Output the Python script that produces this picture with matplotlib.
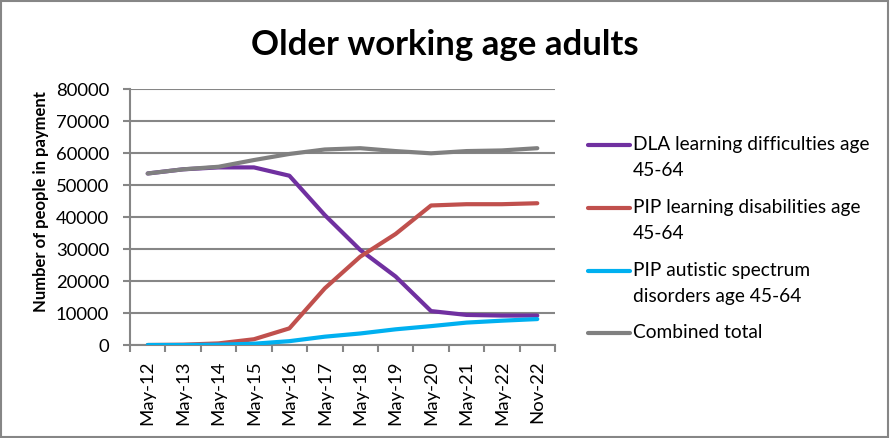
import matplotlib
matplotlib.use("Agg")
import matplotlib.pyplot as plt
from matplotlib.lines import Line2D
from matplotlib.patches import Rectangle

plt.rcParams['font.family'] = ['Lato', 'DejaVu Sans']

months = ['May-12', 'May-13', 'May-14', 'May-15', 'May-16', 'May-17',
          'May-18', 'May-19', 'May-20', 'May-21', 'May-22', 'Nov-22']
dla_ld = [53600, 54900, 55500, 55500, 52900, 40600, 29700, 21400, 10600, 9400, 9200, 9200]
pip_ld = [0, 100, 500, 1800, 5200, 17700, 27600, 34700, 43600, 44000, 44000, 44300]
pip_asd = [0, 0, 100, 400, 1200, 2600, 3600, 4900, 5900, 7000, 7600, 8100]
combined = [53600, 54900, 55700, 57800, 59700, 61100, 61500, 60600, 59900, 60600, 60800, 61500]

series = [
    ('DLA learning difficulties age\n45-64', dla_ld, '#7030A0'),
    ('PIP learning disabilities age\n45-64', pip_ld, '#C0504D'),
    ('PIP autistic spectrum\ndisorders age 45-64', pip_asd, '#00B0F0'),
    ('Combined total', combined, '#808080'),
]

W, H = 890, 438
fig = plt.figure(figsize=(W / 100, H / 100), dpi=100)
fig.add_artist(Rectangle((0.001, 0.002), 0.997, 0.995, transform=fig.transFigure,
                         fill=False, edgecolor='#868686', linewidth=1.5))

ax = fig.add_axes([130 / W, 1 - 345 / H, 425 / W, 256 / H])
x = list(range(len(months)))
for label, vals, col in series:
    ax.plot(x, vals, color=col, linewidth=3, solid_capstyle='round', zorder=3)

ax.set_xlim(-0.5, len(months) - 0.5)
ax.set_ylim(0, 80000)
ax.set_yticks(range(0, 80001, 10000))
ax.set_yticklabels([str(v) for v in range(0, 80001, 10000)], fontsize=13.3)
ax.set_xticks(x)
ax.set_xticklabels(months, rotation=90, fontsize=13.3)
ax.set_xticks([i - 0.5 for i in range(len(months) + 1)], minor=True)
ax.tick_params(axis='x', which='major', length=0, pad=11)
ax.tick_params(axis='x', which='minor', length=5, color='#868686', width=1.5)
ax.tick_params(axis='y', length=5, color='#868686', width=1.5, pad=10)
ax.grid(axis='y', color='#868686', linewidth=1.5)
ax.set_axisbelow(True)
for s in ['top', 'right']:
    ax.spines[s].set_visible(False)
for s in ['left', 'bottom']:
    ax.spines[s].set_color('#868686')
    ax.spines[s].set_linewidth(1.5)
ax.set_ylabel('Number of people in payment', fontsize=12, fontweight='bold')
ax.yaxis.set_label_coords(-0.19, 0.56)

fig.text(445 / W, 1 - 45 / H, 'Older working age adults', fontsize=25,
         fontweight='bold', ha='center', va='center')

# legend drawn by hand so the key sits on the first text line
leg_y = [145, 208, 271, 333]
for (label, vals, col), yy in zip(series, leg_y):
    fy = 1 - yy / H
    fig.add_artist(Line2D([588 / W, 630 / W], [fy, fy], transform=fig.transFigure,
                          color=col, linewidth=3, solid_capstyle='round'))
    fig.text(633 / W, 1 - (yy - 9) / H, label, fontsize=13.8, ha='left', va='top',
             linespacing=1.65)

fig.savefig('out.png', dpi=100)
